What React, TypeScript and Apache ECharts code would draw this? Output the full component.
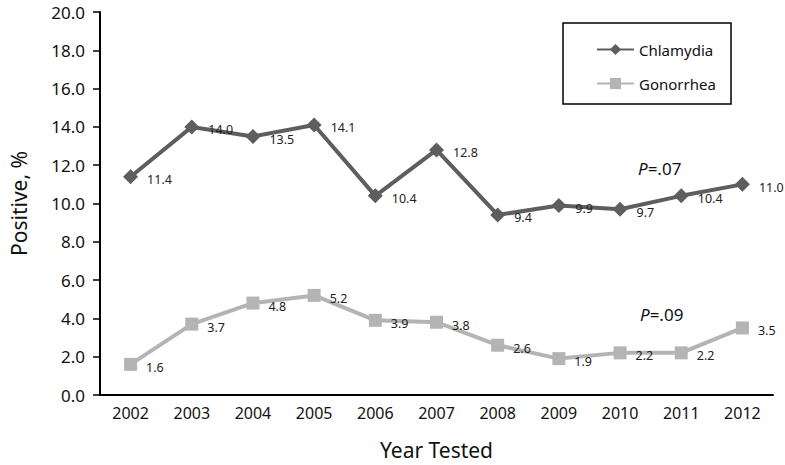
import React, { useEffect, useRef } from "react";
import * as echarts from "echarts";

const years = ["2002", "2003", "2004", "2005", "2006", "2007", "2008", "2009", "2010", "2011", "2012"];
const chlamydia = [11.4, 14.0, 13.5, 14.1, 10.4, 12.8, 9.4, 9.9, 9.7, 10.4, 11.0];
const gonorrhea = [1.6, 3.7, 4.8, 5.2, 3.9, 3.8, 2.6, 1.9, 2.2, 2.2, 3.5];
const pChlamydia = ".07";
const pGonorrhea = ".09";

const FONT = "Noto Sans";

export default function App() {
  const ref = useRef<HTMLDivElement>(null);
  useEffect(() => {
    if (!ref.current) return;
    const chart = echarts.init(ref.current, undefined, { renderer: "svg" });
    const label = {
      show: true,
      position: "right",
      distance: 9,
      offset: [0, 3],
      color: "#222",
      fontFamily: FONT,
      fontSize: 12.5,
      formatter: (p: any) => Number(p.value).toFixed(1),
    };
    chart.setOption({
      animation: false,
      backgroundColor: "#fff",
      grid: { left: 88, right: 12, top: 12, bottom: 68, containLabel: false },
      legend: {
        orient: "vertical",
        left: 591,
        top: 37,
        itemWidth: 37,
        itemHeight: 14,
        itemGap: 19,
        textStyle: { fontFamily: FONT, fontSize: 15, color: "#111" },
        data: ["Chlamydia", "Gonorrhea"],
      },
      xAxis: {
        type: "category",
        data: years,
        boundaryGap: true,
        axisLine: { lineStyle: { color: "#000", width: 2 } },
        axisTick: { alignWithLabel: true, length: 7, lineStyle: { color: "#000", width: 1.5 } },
        axisLabel: { fontFamily: FONT, fontSize: 16, color: "#111", margin: 10 },
        name: "Year Tested",
        nameLocation: "middle",
        nameGap: 44,
        nameTextStyle: { fontFamily: FONT, fontSize: 21, color: "#111" },
      },
      yAxis: {
        type: "value",
        min: 0,
        max: 20,
        interval: 2,
        splitLine: { show: false },
        axisLine: { show: true, lineStyle: { color: "#000", width: 2 } },
        axisTick: { show: true, length: 7, lineStyle: { color: "#000", width: 1.5 } },
        axisLabel: {
          fontFamily: FONT,
          fontSize: 17,
          color: "#111",
          margin: 15,
          formatter: (v: number) => v.toFixed(1),
        },
        name: "Positive, %",
        nameLocation: "middle",
        nameGap: 71,
        nameTextStyle: { fontFamily: FONT, fontSize: 21, color: "#111" },
      },
      graphic: [
        {
          type: "rect",
          shape: { x: 563, y: 23, width: 168, height: 81 },
          style: { fill: "none", stroke: "#000", lineWidth: 1.5 },
        },
        {
          type: "text",
          x: 638,
          y: 168,
          style: {
            text: "{i|P}=" + pChlamydia,
            verticalAlign: "middle",
            rich: {
              i: { fontStyle: "italic", fontFamily: FONT, fontSize: 17, fill: "#111" },
            },
            fontFamily: FONT,
            fontSize: 17,
            fill: "#111",
          },
        },
        {
          type: "text",
          x: 640,
          y: 314,
          style: {
            text: "{i|P}=" + pGonorrhea,
            verticalAlign: "middle",
            rich: {
              i: { fontStyle: "italic", fontFamily: FONT, fontSize: 17, fill: "#111" },
            },
            fontFamily: FONT,
            fontSize: 17,
            fill: "#111",
          },
        },
      ],
      series: [
        {
          name: "Chlamydia",
          type: "line",
          data: chlamydia,
          symbol: "diamond",
          symbolSize: 15,
          lineStyle: { color: "#5e5e5e", width: 4 },
          itemStyle: { color: "#5e5e5e" },
          label,
        },
        {
          name: "Gonorrhea",
          type: "line",
          data: gonorrhea,
          symbol: "rect",
          symbolSize: 13,
          lineStyle: { color: "#b4b4b4", width: 4 },
          itemStyle: { color: "#b4b4b4" },
          label,
        },
      ],
    });
    return () => chart.dispose();
  }, []);
  return (
    <div
      ref={ref}
      style={{ position: "absolute", left: 0, top: 0, width: 785, height: 465 }}
    />
  );
}
